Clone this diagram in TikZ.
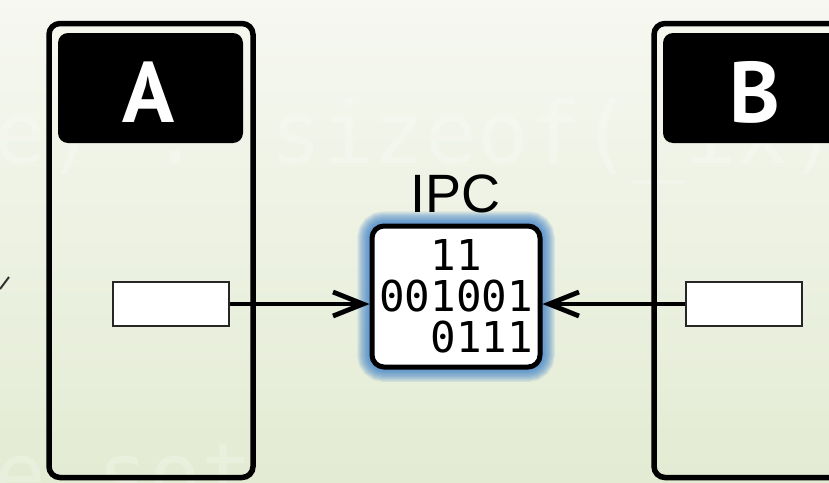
\documentclass[tikz,border=0pt]{standalone}
\usepackage{fontspec}
\setmainfont{Liberation Sans}
\newfontfamily\headfont{PT Sans}
\newfontfamily\codefont{DejaVu Sans Mono}
\usetikzlibrary{arrows.meta}
\definecolor{bgtop}{HTML}{F6F8F1}
\definecolor{bgbot}{HTML}{E3EBD3}
\definecolor{glowc}{RGB}{55,125,200}
\begin{document}
\begin{tikzpicture}[x=1pt,y=-1pt,
  panel/.style={draw=black, line width=5.5pt, rounded corners=11pt,
    minimum width=204pt, minimum height=454pt, inner sep=0pt},
  header/.style={fill=black, rounded corners=10pt, inner sep=0pt,
    minimum width=185pt, minimum height=110pt},
  letter/.style={text=white, inner sep=0pt,
    font=\headfont\bfseries\fontsize{86}{86}\selectfont},
  slot/.style={draw=black!85, line width=2pt, fill=white,
    minimum width=116pt, minimum height=44pt, inner sep=0pt},
  ipc/.style={draw=black, line width=5pt, fill=white, rounded corners=12pt,
    minimum width=168pt, minimum height=141pt, inner sep=0pt, align=left,
    font=\codefont\fontsize{42.5}{41}\selectfont},
  link/.style={line width=4.8pt, -{Straight Barb[length=30pt,width=24pt]}},
  ghost/.style={text=white, opacity=0.22, anchor=base west, inner sep=0pt,
    font=\codefont\fontsize{86}{86}\selectfont}
]
\useasboundingbox (0,0) rectangle (829,482);
\clip (0,0) rectangle (829,482);
% background
\shade[top color=bgtop, bottom color=bgbot] (0,0) rectangle (829,482);
\node[ghost] (wm1) at (-6,163) {e) : sizeof(\_ix)};
\node[ghost] (wm2) at (-6,504) {e sot};
\draw[line width=2pt, black!80] (0,289) -- (9,277);

% processes
\node[panel] (procA) at (151,250.5) {};
\node[panel] (procB) at (756,250.5) {};
\node[header] (hA) at (150.5,88) {};
\node[header] (hB) at (755.5,88) {};
\node[letter] (lA) at (149,92) {A};
\node[letter] (lB) at (755,92) {B};

% buffers inside each process
\node[slot] (sA) at (171,304) {};
\node[slot] (sB) at (744,304) {};

% shared IPC channel with a soft glow
\foreach \w in {7,9.5,12,14.5,17,19.5,22,24.5,27,29.5}
  \draw[glowc, opacity=0.12, line width=\w pt, rounded corners=12pt]
    (372,226) rectangle (540,367);
\node[ipc] (ipc) at (456,296.5) {\hphantom{00}11\\001001\\\hphantom{00}0111};
\node[anchor=base, inner sep=0pt, font=\fontsize{54}{54}\selectfont] (ipclabel) at (455.5,212) {IPC};

% data flow
\draw[link] (sA.east) -- (sA.east -| ipc.west);
\draw[link] (sB.west) -- (sB.west -| ipc.east);
\end{tikzpicture}
\end{document}
